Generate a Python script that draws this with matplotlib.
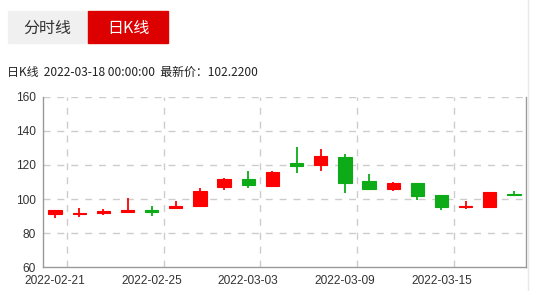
import matplotlib
matplotlib.use("Agg")
import matplotlib.pyplot as plt
from matplotlib.patches import Rectangle
from matplotlib.lines import Line2D

plt.rcParams['font.family'] = ['Noto Sans CJK SC', 'DejaVu Sans']

# daily candles (trading days only)
dates = ["2022-02-21", "2022-02-22", "2022-02-23", "2022-02-24", "2022-02-25",
         "2022-02-28", "2022-03-01", "2022-03-02", "2022-03-03", "2022-03-04",
         "2022-03-07", "2022-03-08", "2022-03-09", "2022-03-10", "2022-03-11",
         "2022-03-14", "2022-03-15", "2022-03-16", "2022-03-17", "2022-03-18"]
opens = [91.1, 91.2, 91.7, 92.3, 93.5, 94.5, 95.7, 106.9, 111.6, 107.6,
         121.4, 120.2, 124.7, 110.5, 105.6, 109.6, 102.5, 95.1, 95.1, 102.7]
closes = [93.3, 92.0, 92.9, 93.7, 92.1, 96.1, 104.9, 111.8, 108.2, 115.7,
          119.4, 125.2, 109.7, 106.0, 109.5, 102.0, 95.1, 95.7, 103.9, 102.22]
highs = [93.3, 94.8, 94.0, 100.6, 95.8, 99.0, 106.7, 112.5, 116.7, 116.3,
         130.3, 129.3, 126.6, 114.8, 110.1, 109.6, 102.5, 98.8, 104.3, 104.7]
lows = [89.1, 89.2, 90.7, 92.0, 89.9, 94.5, 95.1, 105.1, 106.3, 107.3,
        115.3, 116.7, 103.5, 105.4, 104.5, 99.6, 93.3, 93.9, 94.7, 101.6]
y_ticks = [60, 80, 100, 120, 140, 160]
label_every = 4

up_color = "#ff0000"
down_color = "#0dab17"

W, H = 539, 291
fig = plt.figure(figsize=(W / 100, H / 100), dpi=100)

# tabs at the top
fig.patches.append(Rectangle((8 / W, 1 - 42.5 / H), 79 / W, 31.5 / H,
                             transform=fig.transFigure, color="#f0f0f0", zorder=0))
fig.patches.append(Rectangle((88 / W, 1 - 42.5 / H), 80 / W, 31.5 / H,
                             transform=fig.transFigure, color="#dd0000", zorder=0))
fig.text(47 / W, 1 - 28 / H, "分时线", ha="center", va="center", fontsize=11.5, color="#333333")
fig.text(128 / W, 1 - 28 / H, "日K线", ha="center", va="center", fontsize=11.5, color="white")

fig.text(7 / W, 1 - 72 / H, "日K线  %s 00:00:00  最新价：%.4f" % (dates[-1], closes[-1]),
         ha="left", va="center", fontsize=8.6, color="#222222")

# light container edge on the right
fig.lines.append(Line2D([527.7 / W, 527.7 / W], [1 / H, 1], transform=fig.transFigure,
                        color="#e8e8e8", lw=1))

ax = fig.add_axes([43 / W, (H - 267) / H, (526 - 43) / W, (267 - 97) / H])

n = len(dates)
xs = list(range(n))
for i in xs:
    o, c, h, l = opens[i], closes[i], highs[i], lows[i]
    col = up_color if c >= o else down_color
    ax.vlines(i, l, h, color=col, lw=1.3, zorder=3)
    bottom = min(o, c)
    height = max(abs(c - o), 0.5)
    ax.bar(i, height, bottom=bottom, width=0.55, color=col,
           edgecolor=col, linewidth=0.8, zorder=4)

ax.set_xlim(-0.5, n - 0.5)
ax.set_ylim(60, 160)
ax.set_yticks(y_ticks)

label_pos = xs[::label_every]
ax.set_xticks(label_pos)
ax.set_xticklabels([dates[i] for i in label_pos])

# grid lines: horizontal on value ticks, vertical on band edges after label
for v in y_ticks[1:]:
    ax.axhline(v, color="#cccccc", lw=1, ls=(0, (5, 5)), zorder=1)
for i in label_pos:
    ax.axvline(i + 0.5, color="#cccccc", lw=1, ls=(0, (5, 5)), zorder=1)

ax.tick_params(length=0, labelsize=8.6, labelcolor="#333333")
ax.tick_params(axis="y", pad=5)
ax.tick_params(axis="x", pad=6)
for lab in ax.get_xticklabels() + ax.get_yticklabels():
    lab.set_family(["Liberation Sans", "DejaVu Sans"])

ax.spines["top"].set_visible(False)
for s in ("left", "bottom", "right"):
    ax.spines[s].set_color("#999999")
    ax.spines[s].set_linewidth(1)

fig.savefig("out.png", dpi=100)
